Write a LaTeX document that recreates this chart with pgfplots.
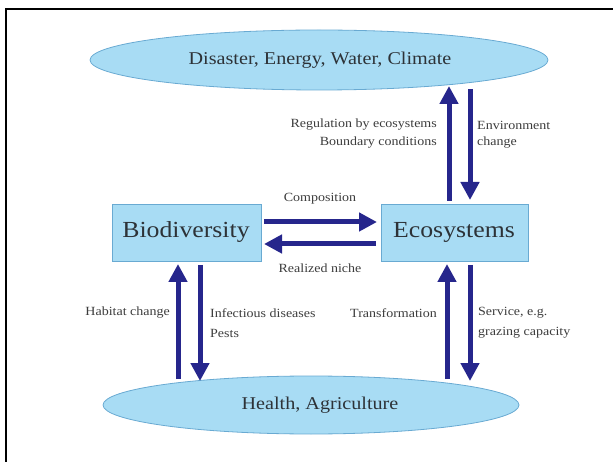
\documentclass[border=0pt]{standalone}
\usepackage{fontspec}
\setmainfont{Liberation Serif}
\newfontfamily\lbl[FakeStretch=1.12]{Liberation Serif}
\usepackage{pgfplots}
\pgfplotsset{compat=1.18}
\usetikzlibrary{arrows.meta}
\definecolor{fillblue}{RGB}{168,220,244}
\definecolor{edgeblue}{RGB}{105,170,210}
\definecolor{arrowblue}{RGB}{38,38,140}
\definecolor{txt}{RGB}{45,50,55}
\definecolor{stxt}{RGB}{60,60,60}
\begin{document}
\begin{tikzpicture}
\useasboundingbox (0,0) rectangle (613pt,462pt);
\begin{axis}[
  width=613pt, height=462pt, scale only axis,
  xmin=0, xmax=613, ymin=0, ymax=462, y dir=reverse,
  hide axis, clip=true,
]
% frame
\addplot[black, line width=2.8pt] coordinates {(6,470) (6,9) (620,9)};
% ellipses
\fill[fillblue, draw=edgeblue, line width=0.8pt] (axis cs:319,60) ellipse [x radius=229, y radius=30];
\fill[fillblue, draw=edgeblue, line width=0.8pt] (axis cs:311,405) ellipse [x radius=208, y radius=29];
% boxes
\addplot[fill=fillblue, draw=edgeblue, line width=0.8pt] coordinates {(112,204) (261,204) (261,261) (112,261)} -- cycle;
\addplot[fill=fillblue, draw=edgeblue, line width=0.8pt] coordinates {(381,204) (528,204) (528,261) (381,261)} -- cycle;
% arrows
\pgfplotsset{arr/.style={arrowblue, line width=5pt, -{Triangle[width=18pt,length=18pt]}}}
\addplot[arr] coordinates {(264,222) (377,222)};
\addplot[arr] coordinates {(376,244) (264,244)};
\addplot[arr] coordinates {(449,201) (449,86)};
\addplot[arr] coordinates {(470,89) (470,200)};
\addplot[arr] coordinates {(178,379) (178,264)};
\addplot[arr] coordinates {(200,265) (200,381)};
\addplot[arr] coordinates {(447,379) (447,264)};
\addplot[arr] coordinates {(470,265) (470,381)};
% main labels
\node[txt, font=\lbl\fontsize{18}{21}\selectfont] at (axis cs:320,60) {Disaster, Energy, Water, Climate};
\node[txt, font=\lbl\fontsize{18}{21}\selectfont] at (axis cs:320,405) {Health, Agriculture};
\node[txt, font=\lbl\fontsize{23}{26}\selectfont] at (axis cs:186,232) {Biodiversity};
\node[txt, font=\lbl\fontsize{23}{26}\selectfont] at (axis cs:454,232) {Ecosystems};
% small labels
\tikzset{sl/.style={stxt, font=\lbl\fontsize{12.5}{14}\selectfont, inner sep=0pt}}
\node[sl, anchor=east] at (axis cs:437,125) {Regulation by ecosystems};
\node[sl, anchor=east] at (axis cs:437,143) {Boundary conditions};
\node[sl, anchor=west] at (axis cs:477,125) {Environment};
\node[sl, anchor=west] at (axis cs:477,143) {change};
\node[sl] at (axis cs:320,199) {Composition};
\node[sl] at (axis cs:320,268) {Realized niche};
\node[sl, anchor=east] at (axis cs:170,313) {Habitat change};
\node[sl, anchor=west] at (axis cs:210,313) {Infectious diseases};
\node[sl, anchor=west] at (axis cs:210,333) {Pests};
\node[sl, anchor=east] at (axis cs:437,313) {Transformation};
\node[sl, anchor=west] at (axis cs:478,313) {Service, e.g.};
\node[sl, anchor=west] at (axis cs:478,333) {grazing capacity};
\end{axis}
\end{tikzpicture}
\end{document}
